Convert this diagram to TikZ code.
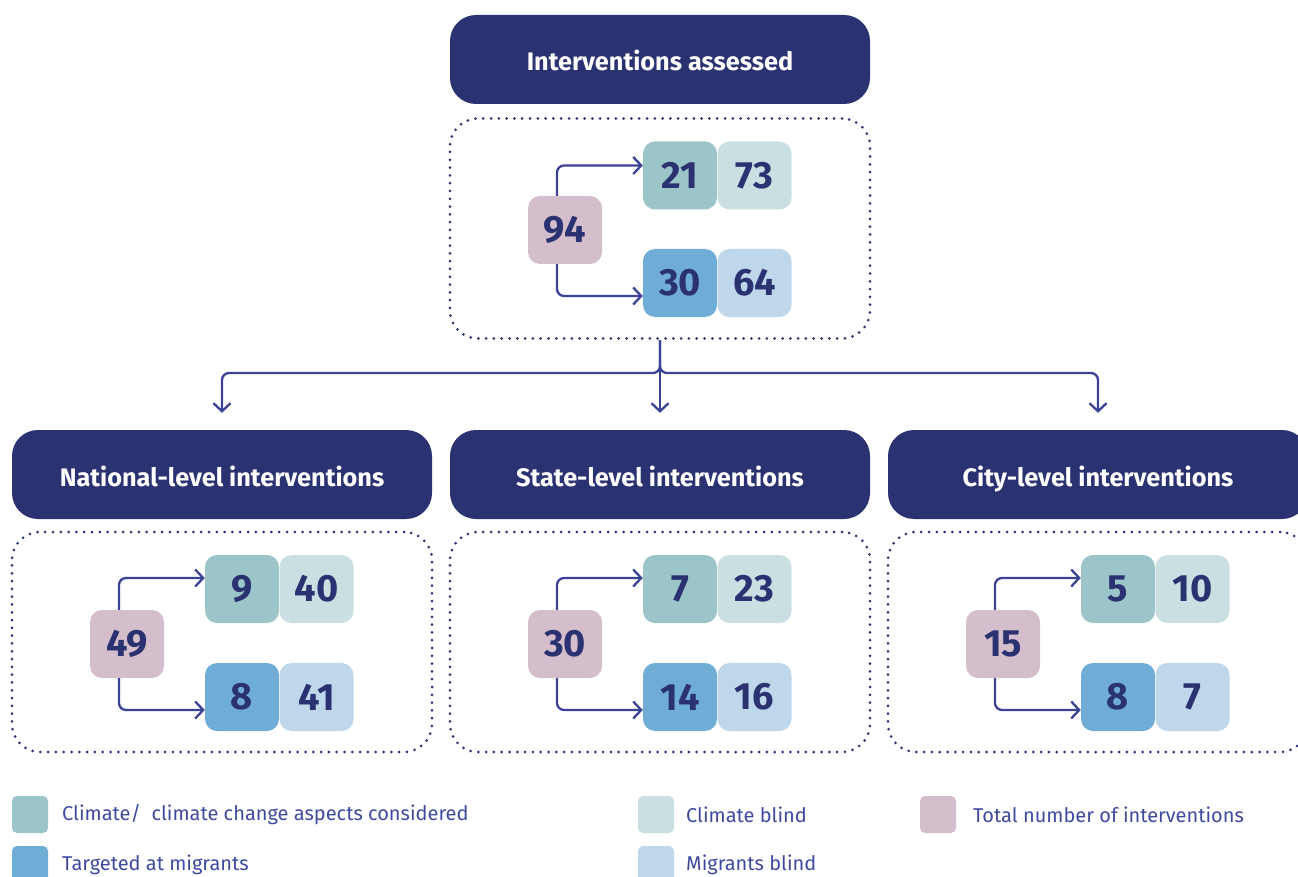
\documentclass[tikz,border=0pt]{standalone}
\usepackage{fontspec}
\setmainfont{Fira Sans}
\usetikzlibrary{arrows.meta}
\definecolor{navy}{HTML}{2B3271}
\definecolor{arrc}{HTML}{3A4396}
\definecolor{dotc}{HTML}{2E3677}
\definecolor{legc}{HTML}{3D4A9E}
\definecolor{ccc}{HTML}{9BC5C8}
\definecolor{cbc}{HTML}{CADFE1}
\definecolor{tgc}{HTML}{70ADD6}
\definecolor{mbc}{HTML}{BED7EA}
\definecolor{totc}{HTML}{D5BECC}
\tikzset{
  hdr/.style={fill=navy, rounded corners=26pt, minimum width=420pt, minimum height=89pt, inner sep=0pt, text height=25pt, text depth=2pt, text=white, font=\bfseries\fontsize{25.3}{30}\selectfont},
  panel/.style={draw=dotc, line width=3pt, dash pattern=on 0pt off 7.8pt, line cap=round, rounded corners=28pt, minimum width=420pt, minimum height=220pt, inner sep=0pt},
  num/.style={minimum width=74pt, minimum height=68pt, rounded corners=12pt, inner sep=0pt, text=navy, font=\bfseries\fontsize{38}{44}\selectfont},
  tot/.style={num, fill=totc},
  cc/.style={num, fill=ccc},
  cb/.style={num, fill=cbc},
  tg/.style={num, fill=tgc},
  mb/.style={num, fill=mbc},
  arr/.style={draw=arrc, line width=2.3pt, rounded corners=7pt, -{Straight Barb[length=8pt,width=17pt,line width=2.3pt]}},
  legsq/.style={minimum width=36pt, minimum height=37pt, rounded corners=5pt, inner sep=0pt},
  legtx/.style={anchor=west, inner sep=0pt, text=legc, font=\fontsize{20}{24}\selectfont}
}
\begin{document}
\begin{tikzpicture}[x=1pt,y=-1pt]
\useasboundingbox (0,0) rectangle (1298,877);
\clip (0,0) rectangle (1298,877);

% top
\node[hdr] (top-hdr) at (660,59.5) {Interventions assessed};
\node[panel] (top-panel) at (660,228.5) {};
\node[tot] (top-tot) at (565,230) {94};
\node[cc] (top-a) at (680,175.5) {21};
\node[cb] (top-b) at (754.5,175.5) {73};
\node[tg] (top-c) at (680,283) {30};
\node[mb] (top-d) at (754.5,283) {64};
\draw[arr] ([xshift=-8pt]top-tot.north) |- ([yshift=10pt]top-a.west);
\draw[arr] ([xshift=-8pt]top-tot.south) |- ([yshift=-13pt]top-c.west);

% lower panels
\foreach \p/\x/\t/\a/\b/\c/\d/\lab in {
  nat/12/49/9/40/8/41/{National-level interventions},
  sta/450/30/7/23/14/16/{State-level interventions},
  cit/888/15/5/10/8/7/{City-level interventions}}{
  \node[hdr] (\p-hdr) at (\x+210,474.5) {\lab};
  \node[panel] (\p-panel) at (\x+210,642) {};
  \node[tot] (\p-tot) at (\x+115,644) {\t};
  \node[cc] (\p-a) at (\x+230,589) {\a};
  \node[cb] (\p-b) at (\x+304.5,589) {\b};
  \node[tg] (\p-c) at (\x+230,697) {\c};
  \node[mb] (\p-d) at (\x+304.5,697) {\d};
  \draw[arr] ([xshift=-8pt]\p-tot.north) |- ([yshift=11pt]\p-a.west);
  \draw[arr] ([xshift=-8pt]\p-tot.south) |- ([yshift=-13pt]\p-c.west);
}

% branching
\coordinate (j) at (660,373);
\draw[arr] (top-panel.south) -- ([yshift=17pt]sta-hdr.north);
\draw[arr] (top-panel.south) -- (j) -| ([yshift=17pt]nat-hdr.north);
\draw[arr] (top-panel.south) -- (j) -| ([yshift=17pt]cit-hdr.north);

% legend
\node[legsq, fill=ccc] (l1) at (30,814.5) {};
\node[legtx] (l1t) at (62,815) {Climate/\ \ climate change aspects considered};
\node[legsq, fill=tgc] (l2) at (30,864.5) {};
\node[legtx] (l2t) at (62,865) {Targeted at migrants};
\node[legsq, fill=cbc] (l3) at (656,814.5) {};
\node[legtx] (l3t) at (686,815) {Climate blind};
\node[legsq, fill=mbc] (l4) at (656,864.5) {};
\node[legtx] (l4t) at (686,865) {Migrants blind};
\node[legsq, fill=totc] (l5) at (938,814.5) {};
\node[legtx] (l5t) at (973,815) {Total number of interventions};
\end{tikzpicture}
\end{document}
